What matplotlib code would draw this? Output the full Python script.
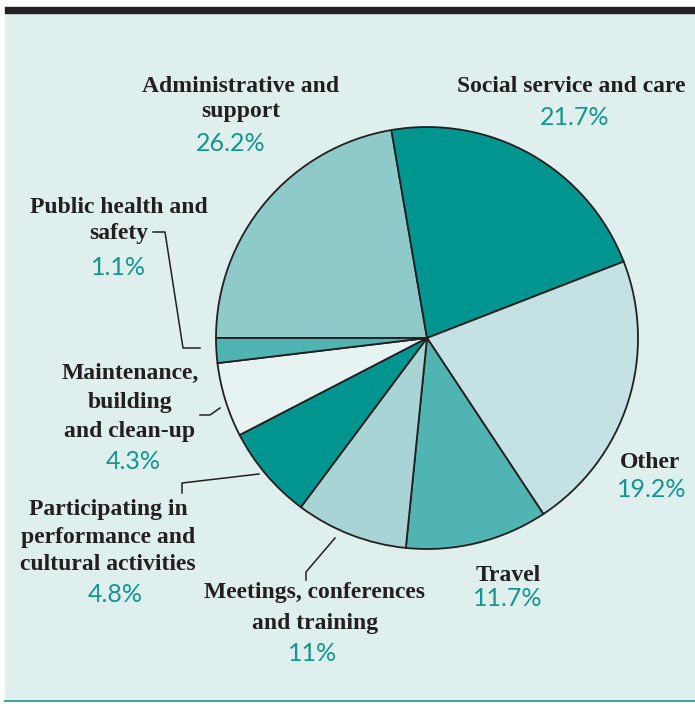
import matplotlib
matplotlib.use("Agg")
import matplotlib.pyplot as plt
from matplotlib.patches import Rectangle

# slice order: clockwise from 9 o'clock
categories = ["Administrative and\nsupport", "Social service and care", "Other", "Travel",
              "Meetings, conferences\nand training", "Participating in\nperformance and\ncultural activities",
              "Maintenance,\nbuilding\nand clean-up", "Public health and\nsafety"]
pct_labels = ["26.2%", "21.7%", "19.2%", "11.7%", "11%", "4.8%", "4.3%", "1.1%"]
# wedge sizes as drawn in the picture (the artwork is not exactly to scale)
drawn_share = [22.3, 21.8, 21.6, 10.9, 8.6, 7.2, 5.7, 1.9]
colors = ["#8ecaca", "#00958f", "#c4e2e3", "#50b4b2", "#a8d4d5", "#00958f", "#e7f3f3", "#50b4b2"]

BG = "#dfefee"
DARK = "#231f20"
TEAL = "#12968f"
H = 704

fig = plt.figure(figsize=(6.95, 7.04), dpi=100)
ax = fig.add_axes([0, 0, 1, 1])

def Y(y):
    return H - y

# panel, top rule, bottom rule
ax.add_patch(Rectangle((5, Y(700)), 690, 687, color=BG, zorder=0))
ax.add_patch(Rectangle((5, Y(13)), 690, 6, color=DARK, zorder=1))
ax.plot([5, 695], [Y(700.5), Y(700.5)], color="#1c8f8a", lw=1.2, zorder=1)

ax.pie(drawn_share, colors=colors, startangle=180, counterclock=False,
       center=(427, Y(338)), radius=211, frame=True,
       wedgeprops=dict(edgecolor=DARK, linewidth=1.3))
ax.set_xlim(0, 695)
ax.set_ylim(0, H)
ax.axis("off")

serif = dict(family="Liberation Serif", weight="bold", color=DARK, fontsize=17,
             ha="center", va="baseline")
sans = dict(family="Lato", color=TEAL, fontsize=18, ha="center", va="baseline")

# label x, baseline of each text line, pct x, pct baseline
spots = [
    (241, [92, 117], 231, 151),
    (571, [92], 575, 125),
    (650, [468], 652, 497),
    (508, [581], 508, 606),
    (315, [598, 629], 313, 661),
    (108, [515, 543, 570], 115, 602),
    (130, [379, 408, 437], 133, 469),
    (119, [213, 239], 118, 275),
]
for cat, pct, (lx, lys, px, py) in zip(categories, pct_labels, spots):
    for line, ly in zip(cat.split("\n"), lys):
        ax.text(lx, Y(ly), line, **serif)
    ax.text(px, Y(py), pct, **sans)

# leader lines
leaders = [
    [(153, 232), (165, 232), (183, 348), (200, 348)],
    [(200, 415), (210, 415), (220, 408)],
    [(182, 493), (182, 483), (259, 474)],
    [(306, 580), (306, 572), (335, 538)],
]
for pts in leaders:
    ax.plot([p[0] for p in pts], [Y(p[1]) for p in pts], color=DARK, lw=1.1, zorder=3)

fig.savefig("out.png", dpi=100, facecolor="white")
